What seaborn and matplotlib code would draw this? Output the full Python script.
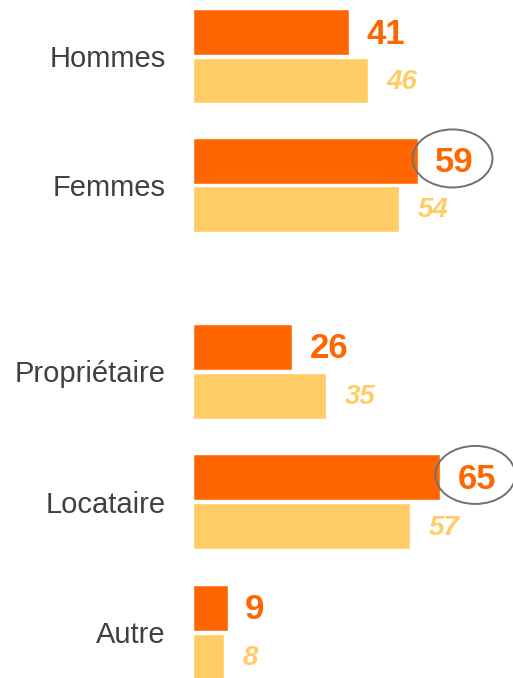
import matplotlib
matplotlib.use("Agg")
import matplotlib.pyplot as plt
from matplotlib.patches import Ellipse
import seaborn as sns
import pandas as pd

# ---- data ----
top_categories = ["Hommes", "Femmes"]
top_current = [41, 59]
top_previous = [46, 54]

bottom_categories = ["Propriétaire", "Locataire", "Autre"]
bottom_current = [26, 65, 9]
bottom_previous = [35, 57, 8]

series_names = ["Actuel", "Précédent"]
circled = ["Femmes", "Locataire"]

ORANGE = "#FF6600"
YELLOW = "#FFCC66"
TEXT = "#404040"

sns.set_theme(style="white")
plt.rcParams["font.family"] = ["Liberation Sans", "DejaVu Sans"]

fig = plt.figure(figsize=(5.13, 6.78), dpi=100)
W, H = 513, 678
x0 = 193.3
px_per_unit = 3.8
xmax = (W - x0) / px_per_unit

ax_top = fig.add_axes([x0 / W, 1 - 255 / H, 1 - x0 / W, 255 / H])
ax_bot = fig.add_axes([x0 / W, 0, 1 - x0 / W, (678 - 290) / H])


def make_df(cats, cur, prev):
    rows = []
    for c, a, b in zip(cats, cur, prev):
        rows.append({"cat": c, "serie": series_names[0], "val": a})
        rows.append({"cat": c, "serie": series_names[1], "val": b})
    return pd.DataFrame(rows)


def draw(ax, cats, cur, prev, ylim, pitch_px):
    df = make_df(cats, cur, prev)
    sns.barplot(data=df, y="cat", x="val", hue="serie", order=cats,
                hue_order=series_names, palette=[ORANGE, YELLOW],
                orient="h", width=0.75, gap=0.06, saturation=1,
                legend=False, ax=ax)
    ax.set_xlim(0, xmax)
    ax.set_ylim(*ylim)
    for s in ax.spines.values():
        s.set_visible(False)
    ax.set_xticks([])
    ax.set_xlabel("")
    ax.set_ylabel("")
    ax.tick_params(axis="y", length=0, pad=19.7, labelsize=21, labelcolor=TEXT)
    off = 0.1875
    for i, (c, a, b) in enumerate(zip(cats, cur, prev)):
        ax.annotate(f"{a}", (a, i - off), xytext=(12.5, -1.5), textcoords="offset points",
                    ha="left", va="center", fontsize=25, fontweight="bold",
                    color=ORANGE, annotation_clip=False)
        ax.annotate(f"{b}", (b, i + off), xytext=(13.5, -1.0), textcoords="offset points",
                    ha="left", va="center", fontsize=20, fontweight="bold",
                    fontstyle="italic", color=YELLOW, annotation_clip=False)
        if c in circled:
            e = Ellipse((a + 35 / px_per_unit, i - off - 2.4 / pitch_px),
                        width=80 / px_per_unit, height=58 / pitch_px,
                        fill=False, edgecolor="#707070", linewidth=1.4,
                        clip_on=False)
            ax.add_patch(e)


draw(ax_top, top_categories, top_current, top_previous, (1.544, -0.437), 128.7)
draw(ax_bot, bottom_categories, bottom_current, bottom_previous, (2.350, -0.623), 130.5)

fig.savefig("out.png", dpi=100)
